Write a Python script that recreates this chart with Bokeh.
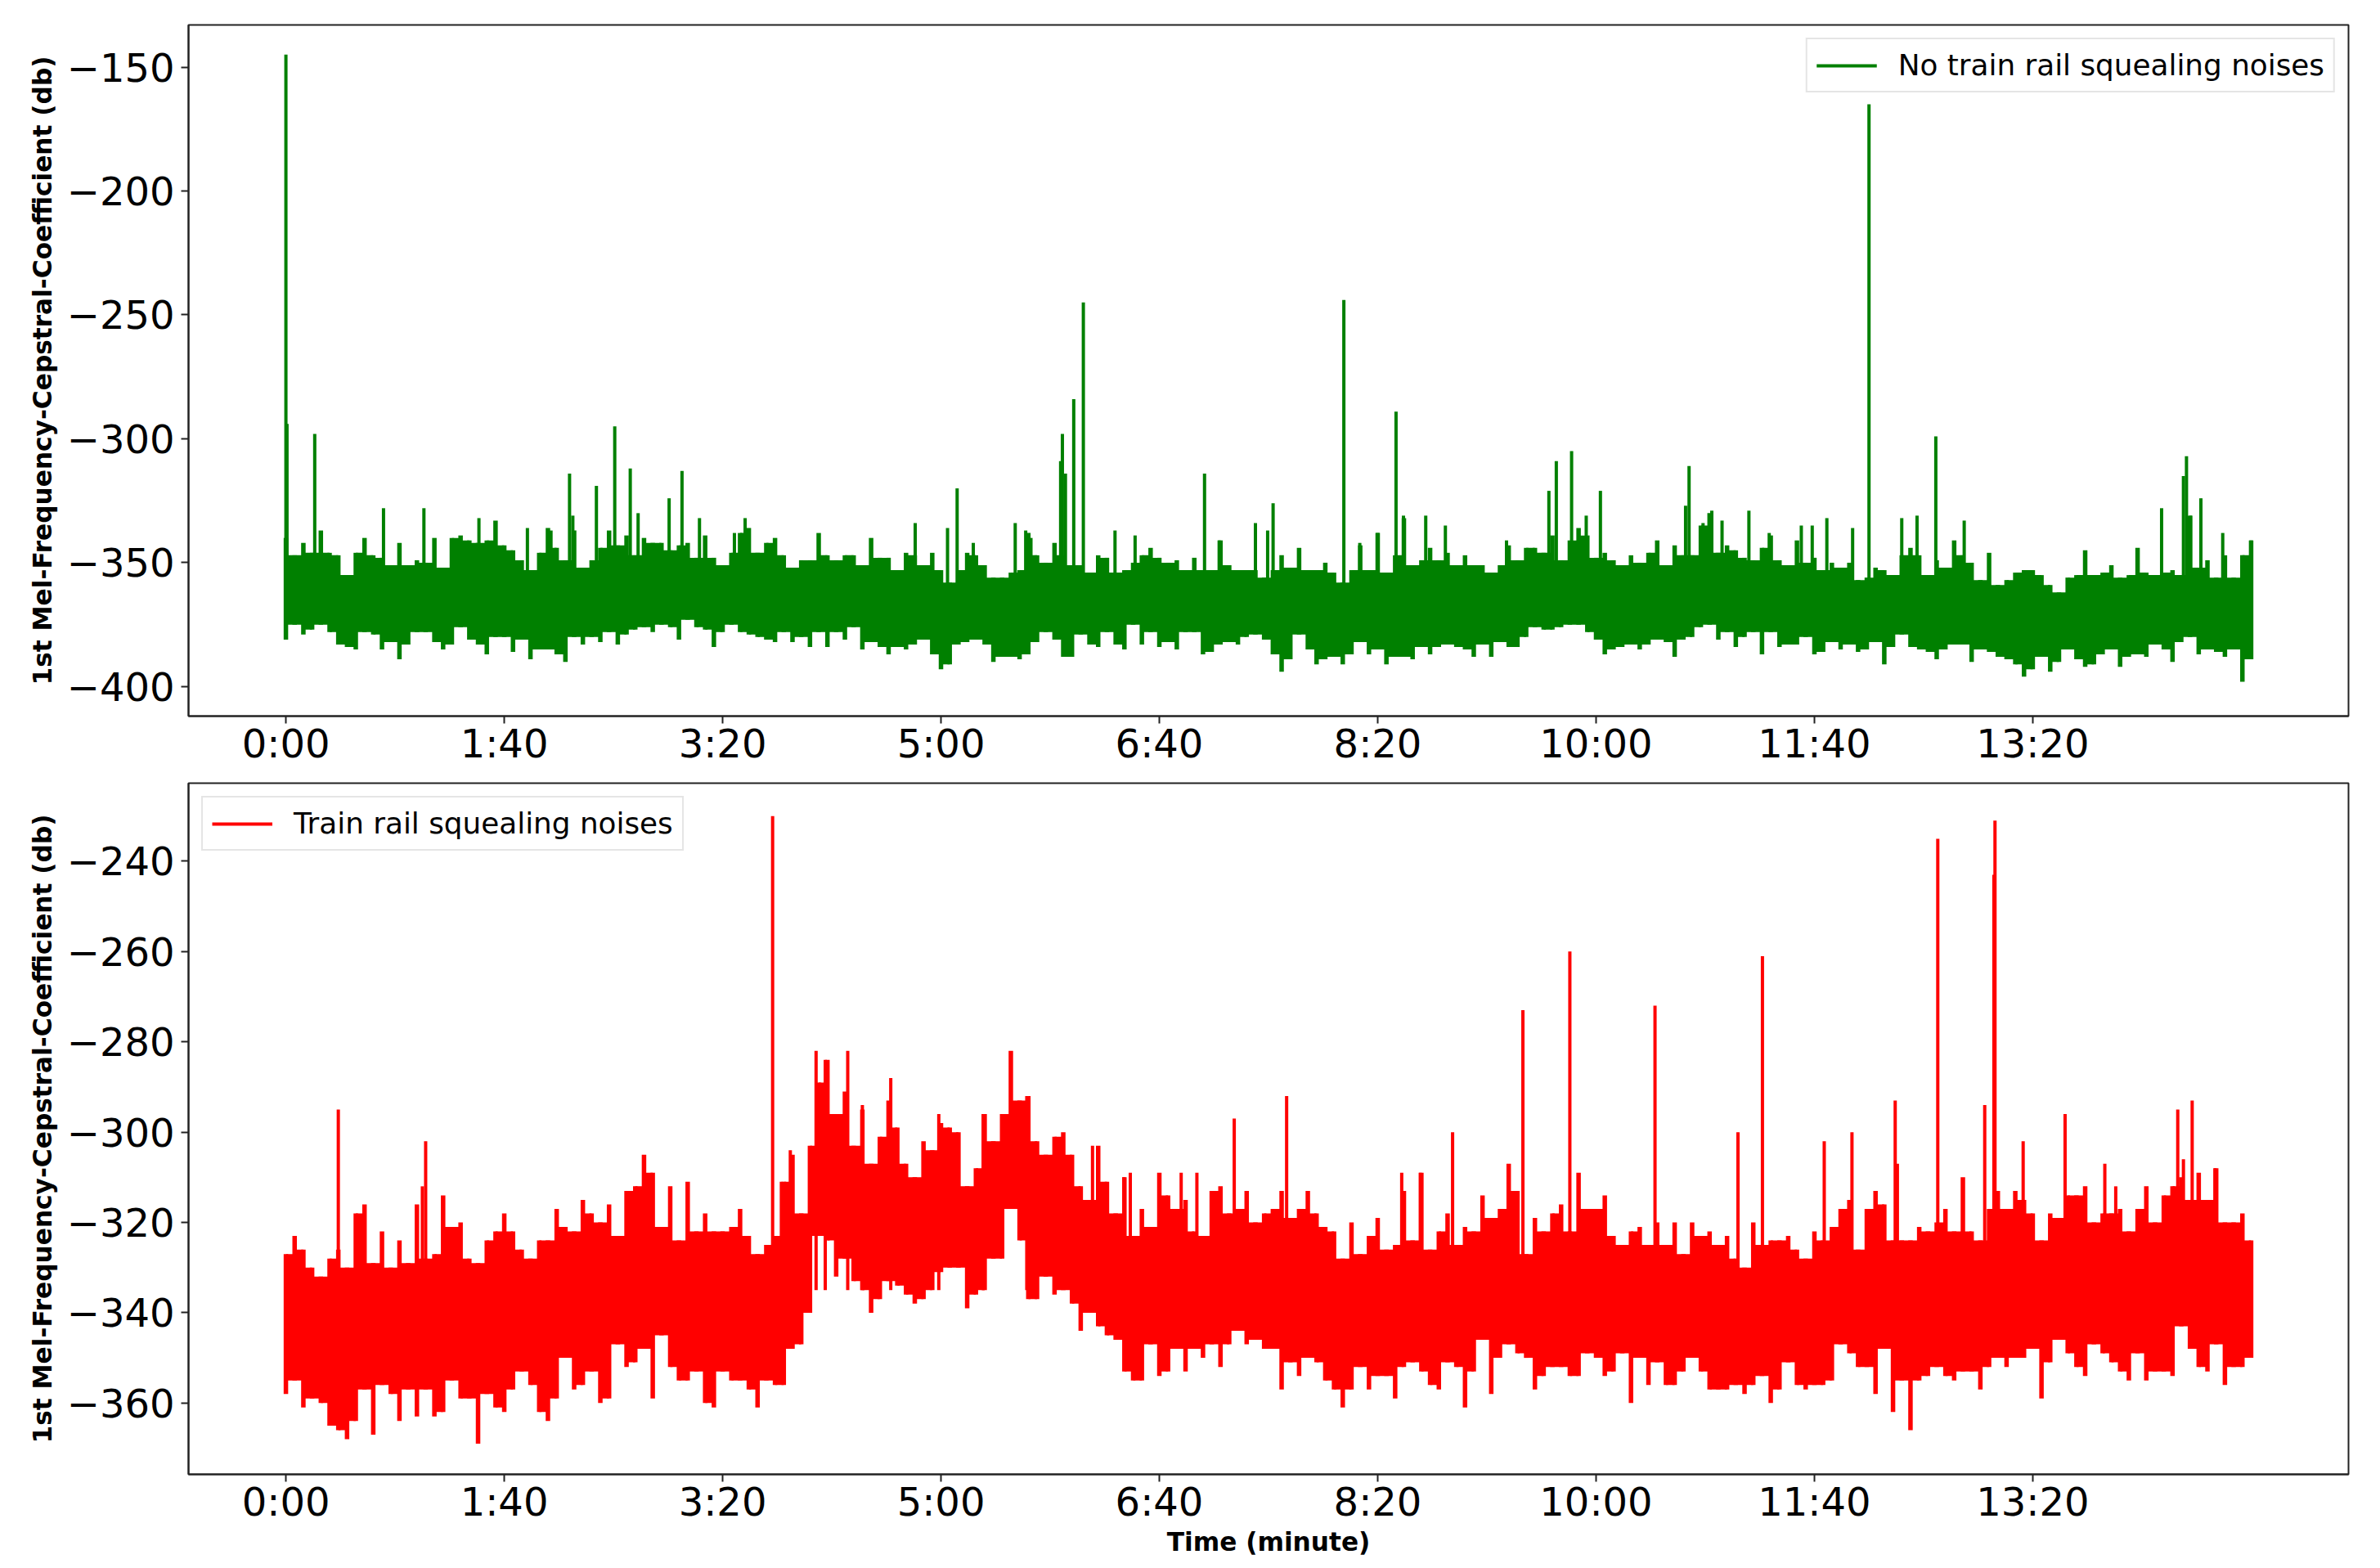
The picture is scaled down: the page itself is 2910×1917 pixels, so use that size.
from bokeh.embed import file_html
from bokeh.layouts import column
from bokeh.models import FixedTicker
from bokeh.plotting import figure
from bokeh.resources import INLINE

tick_seconds = [0, 100, 200, 300, 400, 500, 600, 700, 800]
tick_labels = ["0:00", "1:40", "3:20", "5:00", "6:40", "8:20", "10:00", "11:40", "13:20"]
green_y_ticks = [-150, -200, -250, -300, -350, -400]
red_y_ticks = [-240, -260, -280, -300, -320, -340, -360]

# envelope of the signal, one column every 4 seconds
columns_t = list(range(0, 901, 4))

green_hi = [
    -340, -347, -342, -346, -337, -346, -347, -355, -346, -340,
    -347, -348, -351, -342, -351, -349, -350, -340, -352, -340,
    -339, -341, -342, -341, -333, -343, -345, -349, -353, -346,
    -336, -344, -349, -337, -352, -349, -344, -337, -343, -339,
    -347, -340, -342, -342, -345, -343, -342, -348, -339, -348,
    -351, -346, -338, -336, -346, -342, -340, -347, -352, -349,
    -349, -338, -347, -349, -347, -347, -351, -340, -348, -348,
    -353, -346, -347, -351, -346, -353, -358, -353, -346, -347,
    -351, -356, -356, -354, -353, -338, -347, -350, -342, -347,
    -351, -351, -354, -347, -348, -354, -353, -350, -347, -344,
    -348, -350, -349, -353, -348, -353, -353, -341, -351, -353,
    -353, -353, -356, -353, -347, -352, -344, -353, -353, -350,
    -354, -358, -353, -343, -353, -338, -354, -347, -332, -351,
    -349, -344, -349, -346, -351, -347, -351, -351, -354, -351,
    -343, -349, -344, -344, -346, -339, -349, -341, -336, -339,
    -348, -346, -349, -351, -347, -350, -346, -341, -351, -343,
    -347, -347, -335, -330, -346, -343, -345, -348, -349, -344,
    -339, -349, -351, -341, -350, -348, -353, -350, -352, -350,
    -357, -356, -352, -353, -355, -347, -344, -347, -355, -349,
    -352, -341, -347, -350, -357, -346, -359, -357, -354, -353,
    -353, -355, -359, -362, -356, -355, -345, -355, -354, -351,
    -356, -355, -344, -354, -355, -354, -353, -355, -331, -352,
    -349, -356, -347, -356, -347, -341,
]
green_lo = [
    -381, -375, -379, -377, -375, -378, -383, -384, -385, -378,
    -379, -385, -382, -389, -383, -378, -378, -382, -385, -383,
    -376, -381, -383, -387, -380, -380, -386, -381, -389, -385,
    -385, -387, -390, -380, -383, -380, -382, -378, -383, -379,
    -377, -376, -378, -375, -376, -381, -373, -376, -377, -384,
    -378, -375, -378, -379, -380, -381, -382, -378, -382, -380,
    -384, -378, -384, -378, -381, -376, -385, -382, -384, -387,
    -384, -385, -383, -381, -387, -393, -391, -383, -382, -381,
    -383, -390, -388, -388, -389, -387, -382, -378, -381, -388,
    -388, -379, -383, -384, -378, -383, -385, -375, -383, -378,
    -384, -382, -385, -378, -378, -387, -386, -383, -382, -383,
    -380, -379, -381, -387, -394, -389, -379, -385, -391, -389,
    -388, -391, -387, -382, -387, -385, -391, -388, -388, -389,
    -384, -387, -384, -383, -384, -385, -388, -383, -388, -382,
    -384, -384, -380, -376, -377, -377, -376, -375, -375, -378,
    -381, -387, -385, -384, -383, -385, -383, -381, -382, -388,
    -381, -380, -376, -375, -381, -378, -384, -380, -378, -387,
    -378, -384, -383, -383, -380, -387, -386, -382, -385, -383,
    -386, -385, -382, -391, -384, -379, -384, -385, -386, -389,
    -385, -383, -383, -390, -385, -386, -388, -389, -391, -396,
    -393, -388, -394, -390, -385, -389, -392, -391, -387, -385,
    -392, -388, -387, -388, -383, -385, -390, -382, -380, -387,
    -385, -386, -388, -385, -398, -389,
]
red_hi = [
    -327, -323, -326, -330, -332, -328, -326, -330, -318, -316,
    -329, -322, -330, -324, -329, -316, -328, -327, -314, -321,
    -320, -328, -329, -324, -322, -318, -322, -326, -328, -324,
    -324, -317, -321, -322, -315, -318, -320, -316, -323, -313,
    -312, -305, -309, -321, -312, -324, -311, -322, -318, -322,
    -322, -321, -317, -323, -327, -325, -323, -311, -305, -318,
    -303, -289, -284, -296, -291, -303, -295, -307, -301, -293,
    -299, -307, -310, -302, -304, -298, -299, -300, -312, -308,
    -296, -302, -296, -282, -293, -292, -302, -305, -301, -300,
    -305, -312, -315, -303, -311, -318, -310, -323, -317, -321,
    -309, -314, -317, -315, -322, -323, -313, -312, -318, -317,
    -313, -320, -318, -317, -313, -319, -317, -313, -318, -321,
    -322, -328, -320, -327, -323, -319, -326, -325, -313, -324,
    -309, -326, -322, -318, -325, -321, -322, -314, -319, -317,
    -307, -313, -327, -319, -322, -318, -316, -322, -309, -317,
    -317, -314, -323, -325, -322, -321, -325, -320, -325, -320,
    -327, -320, -323, -322, -325, -323, -328, -330, -320, -325,
    -324, -324, -323, -326, -328, -322, -324, -321, -317, -315,
    -326, -317, -313, -316, -324, -324, -324, -321, -322, -320,
    -317, -322, -310, -322, -324, -317, -313, -317, -313, -315,
    -318, -324, -318, -319, -314, -314, -312, -320, -318, -318,
    -317, -322, -317, -312, -320, -314, -312, -310, -315, -309,
    -315, -308, -320, -320, -318, -324,
]
red_lo = [
    -358, -355, -361, -359, -360, -365, -366, -368, -364, -357,
    -367, -356, -358, -364, -357, -363, -357, -363, -362, -355,
    -359, -359, -369, -358, -361, -362, -357, -353, -356, -362,
    -364, -359, -350, -357, -356, -353, -360, -359, -347, -352,
    -351, -348, -359, -345, -352, -355, -355, -353, -360, -361,
    -353, -355, -355, -357, -361, -355, -356, -356, -348, -347,
    -340, -323, -324, -332, -328, -333, -335, -340, -337, -333,
    -334, -336, -338, -337, -335, -331, -330, -330, -339, -336,
    -335, -328, -328, -317, -324, -337, -337, -332, -336, -335,
    -338, -344, -340, -343, -345, -346, -353, -355, -355, -347,
    -354, -353, -348, -353, -348, -350, -347, -352, -347, -344,
    -347, -346, -348, -348, -357, -351, -354, -350, -351, -355,
    -357, -361, -357, -352, -357, -354, -354, -359, -352, -351,
    -353, -356, -357, -351, -352, -361, -353, -346, -358, -350,
    -347, -349, -350, -357, -354, -352, -352, -354, -354, -349,
    -350, -354, -353, -349, -360, -350, -356, -351, -356, -356,
    -353, -350, -353, -357, -357, -357, -356, -358, -356, -354,
    -360, -357, -351, -356, -357, -356, -356, -355, -347, -349,
    -352, -352, -358, -348, -362, -355, -366, -355, -354, -352,
    -354, -355, -353, -353, -357, -352, -350, -352, -350, -350,
    -348, -359, -351, -346, -349, -352, -354, -347, -349, -351,
    -353, -355, -349, -355, -353, -353, -354, -343, -348, -352,
    -353, -347, -356, -352, -352, -350,
]

# the tall single peaks
green_spike_t = [0, 0.5, 13.2, 44.7, 63.2, 88.4, 110.6, 121.4, 129.9, 131.4, 142.2, 150.6,
                 157.7, 161.3, 175.5, 181.4, 189.4, 205.4, 210.3, 288.2, 303, 307.4, 314.8,
                 334, 338.8, 341.2, 354.8, 355.6, 357, 360.8, 365.2, 379.7, 388.9, 420.7,
                 427.4, 444, 449.6, 452.1, 484.5, 491.8, 500, 508.4, 511.8, 522, 531, 559,
                 578.4, 581.8, 588.8, 595.5, 602, 641, 642.6, 649, 653, 657.7, 670, 679.3,
                 694, 699, 705.7, 717.5, 725, 740, 747, 755.6, 768.6, 859, 869, 870.4,
                 872.3, 877, 887, 900]
green_spike_top = [-145, -294, -298, -328, -328, -332, -336, -337, -314, -331, -319, -295,
                   -312, -330, -324, -313, -332, -338, -332, -334, -336, -320, -342,
                   -334, -337, -340, -309, -298, -314, -284, -245, -337, -339, -314,
                   -341, -334, -337, -326, -244, -342, -338, -289, -331, -331, -335, -341,
                   -321, -309, -305, -331, -321, -327, -311, -334, -329, -333, -329, -338,
                   -335, -335, -332, -336, -165, -332, -331, -299, -333, -328, -315, -307,
                   -331, -324, -338, -341]
red_spike_t = [24, 62.5, 64, 222.9, 226.9, 231, 242.8, 247, 257.3, 264, 277, 299, 319.3,
               339.3, 369.4, 383.8, 386.7, 410, 417.2, 434.3, 458.3, 511, 519.5, 534.3,
               566.5, 588, 627, 665, 676.2, 704.5, 717.2, 737, 738, 756.5, 778, 782.2,
               782.7, 795.6, 814.8, 833, 838, 866.4, 869, 873, 883.4]
red_spike_top = [-295, -312, -302, -230, -311, -304, -282, -284, -282, -294, -288, -296, -296,
                 -292, -303, -310, -309, -309, -309, -297, -292, -309, -309, -300,
                 -273, -260, -272, -300, -261, -302, -300, -293, -307, -235, -294, -243,
                 -231, -302, -296, -307, -312, -295, -306, -293, -308]


def make_panel(y_start, y_end, y_ticks, height, border_top, border_bottom):
    p = figure(width=2902, height=height, x_range=(-44.6, 944.6), y_range=(y_start, y_end),
               output_backend="svg", toolbar_location=None,
               min_border_left=230, min_border_right=31,
               min_border_top=border_top, min_border_bottom=border_bottom)
    p.grid.visible = False
    p.outline_line_color = "#222222"
    p.outline_line_width = 2
    p.xaxis.ticker = FixedTicker(ticks=tick_seconds)
    p.xaxis.major_label_overrides = dict(zip(tick_seconds, tick_labels))
    p.yaxis.ticker = FixedTicker(ticks=y_ticks)
    p.yaxis.major_label_overrides = {v: "\u2212" + str(-v) for v in y_ticks}
    p.yaxis.axis_label = "1st Mel-Frequency-Cepstral-Coefficient (db)"
    p.yaxis.axis_label_text_font = "DejaVu Sans"
    p.yaxis.axis_label_text_font_style = "bold"
    p.yaxis.axis_label_text_font_size = "31.2px"
    p.yaxis.axis_label_text_color = "#000000"
    p.yaxis.axis_label_standoff = 9
    for ax in p.axis:
        ax.major_label_text_font = "DejaVu Sans"
        ax.major_label_text_font_size = "48px"
        ax.major_label_text_color = "#000000"
        ax.axis_line_color = "#222222"
        ax.axis_line_width = 2
        ax.major_tick_line_color = "#222222"
        ax.major_tick_line_width = 2
        ax.major_tick_out = 9
        ax.major_tick_in = 0
        ax.minor_tick_line_color = None
    p.xaxis.major_label_standoff = -4
    p.yaxis.major_label_standoff = 8
    return p


def draw_trace(p, colour, label, hi, lo, spike_t, spike_top, spike_base):
    # between two columns the trace only stays solid up to the lower of the two
    between_hi = [min(a, b) for a, b in zip(hi, hi[1:])] + [hi[-1]]
    between_lo = [max(a, b) for a, b in zip(lo, lo[1:])] + [lo[-1]]
    p.varea_step(x=columns_t, y1=between_lo, y2=between_hi, step_mode="after", fill_color=colour)
    p.segment(x0=columns_t, y0=lo, x1=columns_t, y1=hi, line_color=colour, line_width=5.5)
    p.segment(x0=spike_t, y0=[spike_base] * len(spike_t), x1=spike_t, y1=spike_top,
              line_color=colour, line_width=4, legend_label=label)


def style_legend(p, location):
    p.legend.location = location
    p.legend.margin = 16
    p.legend.padding = 11
    p.legend.spacing = 0
    p.legend.glyph_width = 74
    p.legend.glyph_height = 38
    p.legend.label_standoff = 26
    p.legend.label_text_font = "DejaVu Sans"
    p.legend.label_text_font_size = "35.8px"
    p.legend.label_text_color = "#000000"
    p.legend.border_line_color = "#cccccc"
    p.legend.border_line_width = 2
    p.legend.background_fill_alpha = 0.8


p1 = make_panel(-411.9, -133, green_y_ticks, 950, 30, 75)
draw_trace(p1, "#008000", "No train rail squealing noises", green_hi, green_lo,
           green_spike_t, green_spike_top, -360)
style_legend(p1, "top_right")

p2 = make_panel(-375.8, -222.7, red_y_ticks, 955, 7, 103)
draw_trace(p2, "#ff0000", "Train rail squealing noises", red_hi, red_lo,
           red_spike_t, red_spike_top, -335)
style_legend(p2, "top_left")
p2.xaxis.axis_label = "Time (minute)"
p2.xaxis.axis_label_text_font = "DejaVu Sans"
p2.xaxis.axis_label_text_font_style = "bold"
p2.xaxis.axis_label_text_font_size = "31.2px"
p2.xaxis.axis_label_text_color = "#000000"
p2.xaxis.axis_label_standoff = 0

page = column(p1, p2, spacing=0)
open("out.html", "w").write(file_html(page, INLINE))
